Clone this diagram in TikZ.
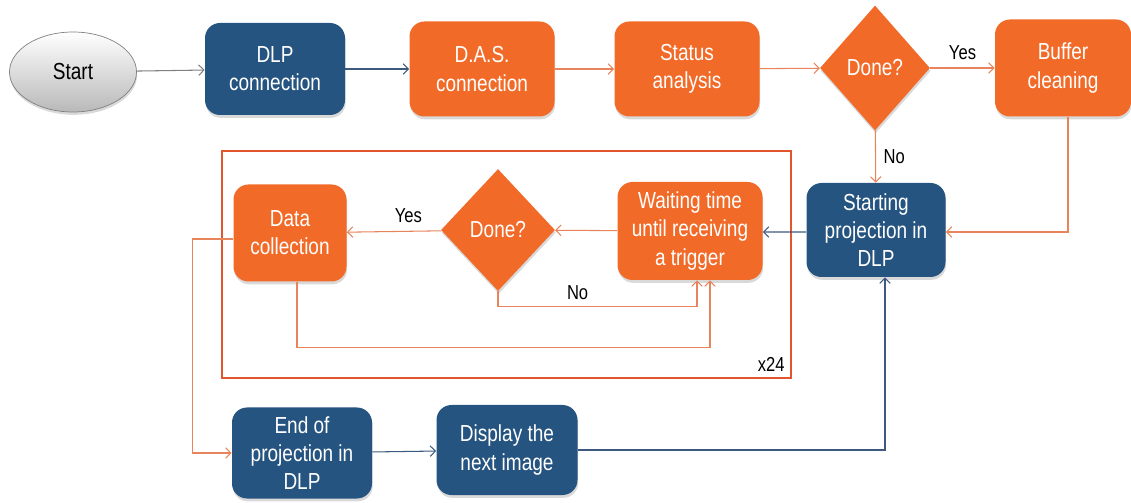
\documentclass[tikz,border=0pt]{standalone}
\usepackage{fontspec}
\setmainfont{Liberation Sans}[FakeStretch=0.82]
\usepackage{xcolor}
\usepackage{tikz}
\usetikzlibrary{arrows.meta,positioning,shapes.geometric,shadows}

\definecolor{dlpblue}{HTML}{265480}
\definecolor{procorange}{HTML}{F26A28}
\definecolor{orangeline}{HTML}{E8845C}
\definecolor{blueline}{HTML}{3D5A7E}
\definecolor{loopred}{HTML}{E2562E}

\begin{document}
\begin{tikzpicture}[
  every node/.style={font=\fontsize{13.2pt}{16pt}\selectfont},
  softshadow/.style={drop shadow={opacity=0.3, shadow xshift=0.4pt, shadow yshift=-1.6pt}},
  box/.style={rounded corners=0.3cm, align=center, text=white, inner sep=2pt, softshadow},
  bluebox/.style={box, fill=dlpblue},
  orangebox/.style={box, fill=procorange},
  decision/.style={diamond, fill=procorange, text=white, inner sep=0pt, softshadow},
  tip/.style={-{Straight Barb[length=3pt,width=6pt]}},
  oarrow/.style={tip, draw=orangeline, line width=0.6pt},
  barrow/.style={tip, draw=blueline, line width=0.6pt},
  garrow/.style={tip, draw=gray, line width=0.6pt},
  lbl/.style={font=\fontsize{11.5pt}{13pt}\selectfont, text=black}
]
  \useasboundingbox (0,0) rectangle (22.62,10.04);

  % repeated acquisition frame
  \node[draw=loopred, line width=1.2pt, minimum width=11.38cm, minimum height=4.54cm,
    inner sep=0pt] (loop) at (10.13,4.75) {};
  \node[lbl, anchor=south east, inner sep=4pt] (reps) at (loop.south east) {x24};

  % top row
  \node[ellipse, draw=gray, top color=white, bottom color=gray!55, softshadow,
    minimum width=2.54cm, minimum height=1.6cm] (start) at (1.46,8.60) {Start};
  \node[bluebox, minimum width=2.8cm, minimum height=1.84cm] (dlp) at (5.5,8.66)
    {DLP\\connection};
  \node[orangebox, minimum width=2.9cm, minimum height=1.9cm] (das) at (9.64,8.66)
    {D.A.S.\\connection};
  \node[orangebox, minimum width=2.9cm, minimum height=1.9cm] (status) at (13.74,8.66)
    {Status\\analysis};
  \node[decision, minimum width=2.2cm, minimum height=2.5cm] (done) at (17.5,8.68) {Done?};
  \node[orangebox, minimum width=2.72cm, minimum height=1.94cm] (buffer) at (21.26,8.68)
    {Buffer\\cleaning};

  % projection loop
  \node[bluebox, minimum width=2.78cm, minimum height=1.88cm] (startproj) at (17.52,5.44)
    {Starting\\projection in\\DLP};
  \node[orangebox, minimum width=2.9cm, minimum height=1.96cm] (wait) at (13.8,5.42)
    {Waiting time\\until receiving\\a trigger};
  \node[decision, minimum width=2.28cm, minimum height=2.44cm] (check) at (9.96,5.44) {Done?};
  \node[orangebox, minimum width=2.26cm, minimum height=1.94cm] (collect) at (5.8,5.38)
    {Data\\collection};

  % bottom row
  \node[bluebox, minimum width=2.8cm, minimum height=1.82cm] (endproj) at (6.04,0.98)
    {End of\\projection in\\DLP};
  \node[bluebox, minimum width=2.82cm, minimum height=1.8cm] (display) at (10.14,1.04)
    {Display the\\next image};

  % connectors
  \draw[garrow] (start) -- (dlp);
  \draw[barrow] (dlp) -- (das);
  \draw[oarrow] (das) -- (status);
  \draw[oarrow] (status) -- (done);
  \draw[oarrow] (done) -- node[lbl, above=1pt] {Yes} (buffer);
  \draw[oarrow] (done) -- node[lbl, right=1pt] {No} (startproj);
  \draw[oarrow] ([xshift=0.1cm]buffer.south) |- ([yshift=-0.04cm]startproj.east);
  \draw[barrow] ([yshift=-0.04cm]startproj.west) -- ([yshift=-0.02cm]wait.east);
  \draw[oarrow] (wait) -- (check);
  \draw[oarrow] (check) -- node[lbl, above=1pt, pos=0.35] {Yes} (collect);
  \draw[oarrow] (check.south) -- ++(0,-0.3) -| node[lbl, above=0pt, pos=0.2] {No}
    ([xshift=0.14cm]wait.south);
  \draw[oarrow] ([xshift=0.14cm]collect.south) -- ++(0,-1.32)
    -| ([xshift=0.4cm]wait.south);
  \draw[oarrow] ([yshift=-0.12cm]collect.west) -- ++(-0.82,0) |- (endproj.west);
  \draw[barrow] (endproj) -- (display);
  \draw[barrow] (display.east) -| ([xshift=0.18cm]startproj.south);
\end{tikzpicture}
\end{document}
